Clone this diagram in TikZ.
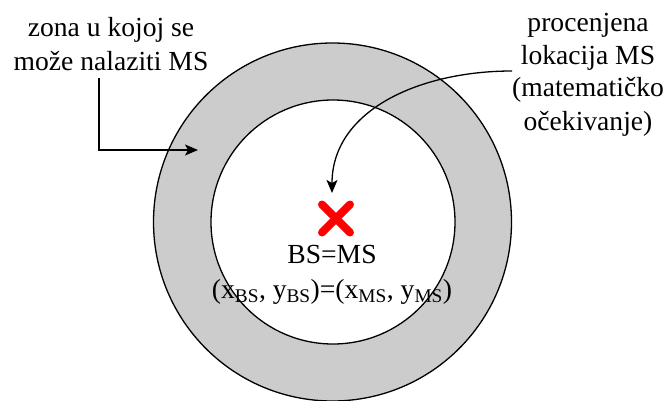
\documentclass[tikz,border=0pt]{standalone}
\usepackage{fontspec}
\setmainfont{Liberation Serif}
\usetikzlibrary{arrows.meta}
\definecolor{ringgray}{RGB}{204,204,204}
\definecolor{xred}{RGB}{255,0,0}
\tikzset{
  ring/.style={circle, draw=black, line width=1.3pt, inner sep=0pt},
  lbl/.style={align=center, inner sep=0pt, font=\fontsize{27.6}{33}\selectfont},
  pointer/.style={line width=1.3pt, -{Stealth[length=13pt,width=11pt,inset=3pt]}},
  xmark/.style={xred, line width=8pt, line cap=round}
}
\begin{document}
\begin{tikzpicture}[x=1pt,y=-1pt]
\useasboundingbox (0,0) rectangle (666,401);
\node[ring, fill=ringgray, minimum size=358pt] (outer) at (332.5,222) {};
\node[ring, fill=white, minimum size=244pt] (inner) at (333,222) {};
% red cross
\coordinate (xc) at (336,218.5);
\draw[xmark] ([shift={(-14,-14)}]xc) -- ([shift={(14,14)}]xc);
\draw[xmark] ([shift={(-14,14)}]xc) -- ([shift={(14,-14)}]xc);
% labels
\node[lbl, anchor=base] (bsms) at (332,263) {BS=MS};
\node[lbl, anchor=base] (coords) at (332,298) {(x\textsubscript{BS}, y\textsubscript{BS})=(x\textsubscript{MS}, y\textsubscript{MS})};
\node[lbl, anchor=base] (zona1) at (111,37) {zona u kojoj se};
\node[lbl, anchor=base] (zona2) at (111,71) {može nalaziti MS};
\node[lbl, anchor=base] (proc1) at (588,32) {procenjena};
\node[lbl, anchor=base] (proc2) at (588,65) {lokacija MS};
\node[lbl, anchor=base] (proc3) at (588,97) {(matematičko};
\node[lbl, anchor=base] (proc4) at (588,130) {očekivanje)};
% arrows
\coordinate (zstart) at (99,78);
\coordinate (zend) at (198,150);
\draw[pointer] (zstart) |- (zend);
\coordinate (pstart) at (512,71);
\coordinate (pend) at (332,193);
\draw[pointer] (pstart) .. controls (420,71) and (332,110) .. (pend);
\end{tikzpicture}
\end{document}
